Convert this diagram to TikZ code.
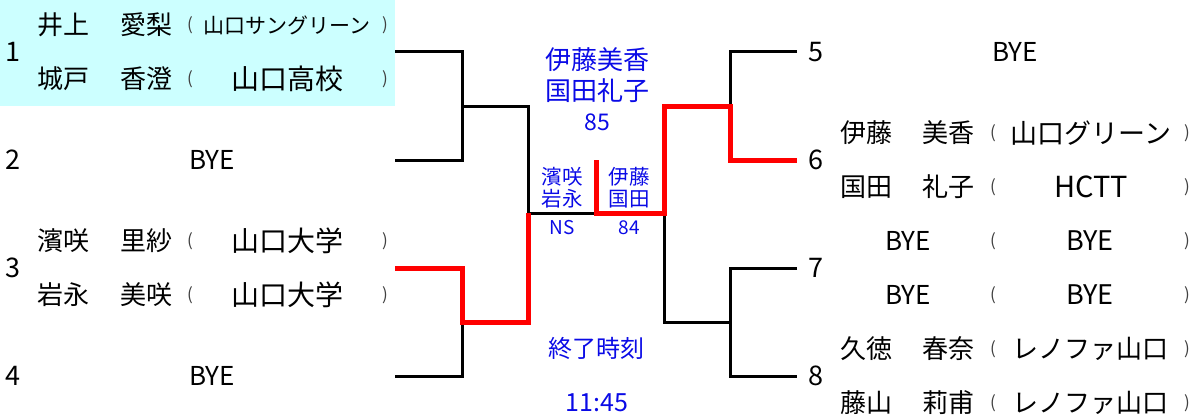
\documentclass[tikz,border=0pt]{standalone}
\usepackage{fontspec}
\setmainfont{Noto Sans CJK JP}
\usepackage{tikz}
\usetikzlibrary{positioning}

\definecolor{azzurro}{RGB}{204,255,255}
\definecolor{blu}{RGB}{10,10,230}
\definecolor{rosso}{RGB}{255,0,0}

\tikzset{
  num/.style={inner sep=0pt, font=\fontsize{27}{27}\selectfont},
  nome/.style={inner sep=0pt, font=\fontsize{26}{26}\selectfont},
  squadra/.style={inner sep=0pt, font=\fontsize{27}{27}\selectfont},
  paren/.style={inner sep=0pt, text=black!75, font=\fontsize{17}{17}\selectfont},
  punti/.style={inner sep=0pt, text=blu, font=\fontsize{26}{26}\selectfont},
  puntini/.style={inner sep=0pt, text=blu, font=\fontsize{20.5}{20.5}\selectfont},
  perso/.style={line width=3pt, black},
  vinto/.style={line width=5pt, rosso},
}

\begin{document}
\begin{tikzpicture}[x=1pt, y=-1pt]
	\useasboundingbox (0,0) rectangle (1194,420);
	% Sfondo della coppia 1
	\fill[azzurro] (0,0) rectangle (395,106);

	% Coppie a sinistra
	\node[num] (n1) at (13,52) {1};
	\node[nome] (c1a) at (63,25) {井上};
	\node[nome] (m1a) at (146,25) {愛梨};
	\node[paren] (pa1a) at (190,25) {(};
	\node[squadra, font=\fontsize{21}{21}\selectfont] (s1a) at (287,25) {山口サングリーン};
	\node[paren] (pc1a) at (385,25) {)};
	\node[nome] (c1b) at (63,79) {城戸};
	\node[nome] (m1b) at (146,79) {香澄};
	\node[paren] (pa1b) at (190,79) {(};
	\node[squadra, font=\fontsize{28}{28}\selectfont] (s1b) at (287,79) {山口高校};
	\node[paren] (pc1b) at (385,79) {)};

	\node[num] (n2) at (13,160) {2};
	\node[nome] (b2) at (212,160) {BYE};

	\node[num] (n3) at (13,268) {3};
	\node[nome] (c3a) at (63,241) {濱咲};
	\node[nome] (m3a) at (146,241) {里紗};
	\node[paren] (pa3a) at (190,241) {(};
	\node[squadra, font=\fontsize{28}{28}\selectfont] (s3a) at (287,241) {山口大学};
	\node[paren] (pc3a) at (385,241) {)};
	\node[nome] (c3b) at (63,295) {岩永};
	\node[nome] (m3b) at (146,295) {美咲};
	\node[paren] (pa3b) at (190,295) {(};
	\node[squadra, font=\fontsize{28}{28}\selectfont] (s3b) at (287,295) {山口大学};
	\node[paren] (pc3b) at (385,295) {)};

	\node[num] (n4) at (13,376) {4};
	\node[nome] (b4) at (212,376) {BYE};

	% Coppie a destra
	\node[num] (n5) at (816,52) {5};
	\node[nome] (b5) at (1015,52) {BYE};

	\node[num] (n6) at (816,160) {6};
	\node[nome] (c6a) at (866,133) {伊藤};
	\node[nome] (m6a) at (948,133) {美香};
	\node[paren] (pa6a) at (993,133) {(};
	\node[squadra] (s6a) at (1091,133) {山口グリーン};
	\node[paren] (pc6a) at (1187,133) {)};
	\node[nome] (c6b) at (866,187) {国田};
	\node[nome] (m6b) at (948,187) {礼子};
	\node[paren] (pa6b) at (993,187) {(};
	\node[squadra, font=\fontsize{29}{29}\selectfont] (s6b) at (1091,187) {HCTT};
	\node[paren] (pc6b) at (1187,187) {)};

	\node[num] (n7) at (816,268) {7};
	\node[nome] (c7a) at (908,241) {BYE};
	\node[paren] (pa7a) at (993,241) {(};
	\node[squadra] (s7a) at (1090,241) {BYE};
	\node[paren] (pc7a) at (1187,241) {)};
	\node[nome] (c7b) at (908,295) {BYE};
	\node[paren] (pa7b) at (993,295) {(};
	\node[squadra] (s7b) at (1090,295) {BYE};
	\node[paren] (pc7b) at (1187,295) {)};

	\node[num] (n8) at (816,376) {8};
	\node[nome] (c8a) at (866,349) {久徳};
	\node[nome] (m8a) at (948,349) {春奈};
	\node[paren] (pa8a) at (993,349) {(};
	\node[squadra, font=\fontsize{26}{26}\selectfont] (s8a) at (1090,349) {レノファ山口};
	\node[paren] (pc8a) at (1187,349) {)};
	\node[nome] (c8b) at (866,403) {藤山};
	\node[nome] (m8b) at (948,403) {莉甫};
	\node[paren] (pa8b) at (993,403) {(};
	\node[squadra, font=\fontsize{26}{26}\selectfont] (s8b) at (1090,403) {レノファ山口};
	\node[paren] (pc8b) at (1187,403) {)};

	% Risultati al centro
	\node[punti] (v1) at (597,60) {伊藤美香};
	\node[punti] (v2) at (597,91) {国田礼子};
	\node[punti, font=\fontsize{23}{23}\selectfont] (v3) at (597,122) {85};
	\node[puntini] (fa1) at (562,177) {濱咲};
	\node[puntini] (fa2) at (562,199) {岩永};
	\node[puntini, font=\fontsize{19}{19}\selectfont] (fa3) at (562,228) {NS};
	\node[puntini] (fb1) at (629,177) {伊藤};
	\node[puntini] (fb2) at (629,199) {国田};
	\node[puntini, font=\fontsize{19}{19}\selectfont] (fb3) at (629,228) {84};
	\node[punti, font=\fontsize{24}{24}\selectfont] (fine) at (596,348) {終了時刻};
	\node[punti, font=\fontsize{25}{25}\selectfont] (ora) at (597,403) {11:45};

	% Punti del tabellone
	\coordinate (e1) at (395,52);
	\coordinate (e2) at (395,160);
	\coordinate (e3) at (395,268);
	\coordinate (e4) at (395,376);
	\coordinate (e5) at (797,52);
	\coordinate (e6) at (797,160);
	\coordinate (e7) at (797,268);
	\coordinate (e8) at (797,376);
	\coordinate (q1) at (462,106);
	\coordinate (q2) at (462,322);
	\coordinate (q3) at (730,106);
	\coordinate (q4) at (730,322);
	\coordinate (s1) at (528,213);
	\coordinate (s2) at (664,213);
	\coordinate (f) at (596,213);
	\coordinate (ft) at (596,160);

	% Linee nere
	\draw[perso] (e1) -| (q1) |- (e2);
	\draw[perso] (q1) -| (s1) -- (f);
	\draw[perso] (e4) -| (q2);
	\draw[perso] (e5) -| (q3);
	\draw[perso] (e7) -| (q4) |- (e8);
	\draw[perso] (q4) -| (s2);

	% Linee rosse (vincitori)
	\draw[vinto] (e3) -| (q2) -| (s1);
	\draw[vinto] (ft) -- (f) -- (s2) |- (q3) |- (e6);
\end{tikzpicture}
\end{document}
